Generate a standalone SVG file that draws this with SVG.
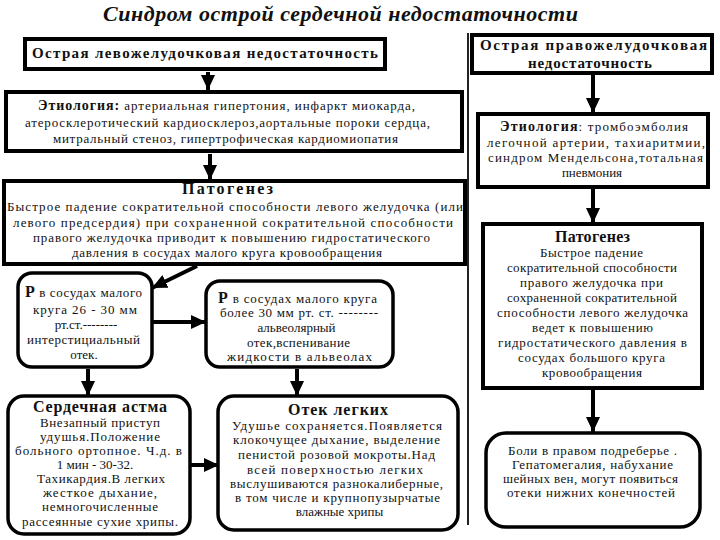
<svg xmlns="http://www.w3.org/2000/svg" width="720" height="540" viewBox="0 0 720 540">
<style>
text{font-family:"Liberation Serif","Times New Roman",serif;fill:#111;text-anchor:middle}
.t{font-size:22px;font-weight:bold;font-style:italic}
.h{font-size:15px;font-weight:bold}
.b{font-size:13px}
.s{font-size:16px;font-weight:bold}
.box{fill:#fff;stroke:#000;stroke-width:4}
.rbox{fill:#fff;stroke:#000;stroke-width:3.5}
.con{stroke:#000;stroke-width:4;fill:none;marker-end:url(#ah)}
.div{stroke:#222;stroke-width:2}
</style>
<defs>
<marker id="ah" markerUnits="userSpaceOnUse" markerWidth="16" markerHeight="14" refX="15" refY="7" orient="auto">
<path d="M0,0 L15,7 L0,14 Z" fill="#000"/>
</marker>
</defs>
<rect width="720" height="540" fill="#fff"/>
<text class="t" x="340.5" y="21" textLength="475">Синдром острой сердечной недостаточности</text>
<line class="div" x1="468" y1="33" x2="468" y2="525"/>

<g id="connectors">
<line class="con" x1="208" y1="72" x2="208" y2="90"/>
<line class="con" x1="210" y1="154" x2="210" y2="180"/>
<line class="con" x1="197" y1="266" x2="152" y2="288"/>
<line class="con" x1="153" y1="322" x2="206" y2="322"/>
<line class="con" x1="88" y1="369" x2="88" y2="396"/>
<line class="con" x1="297" y1="369" x2="297" y2="396"/>
<line class="con" x1="191" y1="465" x2="219" y2="465"/>
<line class="con" x1="593" y1="75" x2="593" y2="113"/>
<line class="con" x1="593" y1="189" x2="593" y2="223"/>
<line class="con" x1="593" y1="390" x2="593" y2="432"/>
</g>

<g id="lv-title">
<rect class="box" x="25" y="39" width="360" height="30"/>
<text class="h" x="205" y="58" textLength="346">Острая левожелудочковая недостаточность</text>
</g>

<g id="lv-etiology">
<rect class="box" x="6" y="92" width="456" height="59"/>
<text class="b" x="226.5" y="109.5" textLength="377"><tspan font-weight="bold" font-size="14">Этиология:</tspan> артериальная гипертония, инфаркт миокарда,</text>
<text class="b" x="227.5" y="126.5" textLength="405">атеросклеротический кардиосклероз,аортальные пороки сердца,</text>
<text class="b" x="225.5" y="142.5" textLength="345">митральный стеноз, гипертрофическая кардиомиопатия</text>
</g>

<g id="lv-pathogenesis">
<rect class="box" x="4" y="181" width="461" height="83"/>
<text class="s" x="227.5" y="194" textLength="91">Патогенез</text>
<text class="b" x="235" y="211" textLength="456">Быстрое падение сократительной способности левого желудочка (или</text>
<text class="b" x="233" y="226.5" textLength="440">левого предсердия) при сохраненной сократительной способности</text>
<text class="b" x="231.5" y="242" textLength="397">правого желудочка приводит к повышению гидростатического</text>
<text class="b" x="227" y="257" textLength="310">давления в сосудах малого круга кровообращения</text>
</g>

<g id="lv-interstitial">
<rect class="rbox" x="18" y="273" width="134" height="94" rx="14"/>
<text class="b" x="83.5" y="297" textLength="117"><tspan font-weight="bold" font-size="16">Р</tspan> в сосудах малого</text>
<text class="b" x="85" y="314" textLength="104">круга 26 - 30 мм</text>
<text class="b" x="86" y="329">рт.ст.--------</text>
<text class="b" x="83.5" y="344" textLength="113">интерстициальный</text>
<text class="b" x="84" y="359">отек.</text>
</g>

<g id="lv-alveolar">
<rect class="rbox" x="206" y="281" width="187" height="86" rx="14"/>
<text class="b" x="297.5" y="303" textLength="159"><tspan font-weight="bold" font-size="16">Р</tspan> в сосудах малого круга</text>
<text class="b" x="299" y="317" textLength="158">более 30 мм рт. ст. --------</text>
<text class="b" x="296.5" y="332">альвеолярный</text>
<text class="b" x="298.5" y="347" textLength="103">отек,вспенивание</text>
<text class="b" x="299.5" y="361" textLength="145">жидкости в альвеолах</text>
</g>

<g id="lv-asthma">
<rect class="rbox" x="8" y="396" width="182" height="138" rx="16"/>
<text class="s" x="100" y="412" textLength="134">Сердечная астма</text>
<text class="b" x="100" y="427" textLength="120">Внезапный приступ</text>
<text class="b" x="100" y="441" textLength="120">удушья.Положение</text>
<text class="b" x="98.5" y="455" textLength="167">больного ортопное. Ч.д. в</text>
<text class="b" x="95" y="469">1 мин - 30-32.</text>
<text class="b" x="101" y="483" textLength="128">Тахикардия.В легких</text>
<text class="b" x="100" y="497" textLength="114">жесткое дыхание,</text>
<text class="b" x="100" y="511" textLength="116">немногочисленные</text>
<text class="b" x="100" y="526" textLength="156">рассеянные сухие хрипы.</text>
</g>

<g id="lv-edema">
<rect class="rbox" x="218" y="396" width="240" height="134" rx="16"/>
<text class="s" x="338" y="415" textLength="100">Отек легких</text>
<text class="b" x="337" y="430" textLength="210">Удушье сохраняется.Появляется</text>
<text class="b" x="336.5" y="444" textLength="207">клокочущее дыхание, выделение</text>
<text class="b" x="336.5" y="459" textLength="197">пенистой розовой мокроты.Над</text>
<text class="b" x="335" y="474" textLength="176">всей поверхностью легких</text>
<text class="b" x="336.5" y="488" textLength="213">выслушиваются разнокалиберные,</text>
<text class="b" x="337.5" y="502" textLength="205">в том числе и крупнопузырчатые</text>
<text class="b" x="339.5" y="516">влажные хрипы</text>
</g>

<g id="rv-title">
<rect class="box" x="472" y="35" width="240" height="38"/>
<text class="h" x="593.5" y="50" textLength="227">Острая правожелудочковая</text>
<text class="h" x="590" y="68" textLength="124">недостаточность</text>
</g>

<g id="rv-etiology">
<rect class="box" x="478" y="114" width="230" height="73"/>
<text class="b" x="594" y="131" textLength="188"><tspan font-weight="bold" font-size="14">Этиология</tspan>: тромбоэмболия</text>
<text class="b" x="596" y="147" textLength="218">легочной артерии, тахиаритмии,</text>
<text class="b" x="595.5" y="162" textLength="215">синдром Мендельсона,тотальная</text>
<text class="b" x="592" y="177">пневмония</text>
</g>

<g id="rv-pathogenesis">
<rect class="box" x="483" y="224" width="219" height="164"/>
<text class="s" x="592.5" y="242" textLength="75">Патогенез</text>
<text class="b" x="591.5" y="257" textLength="103">Быстрое падение</text>
<text class="b" x="592" y="272" textLength="170">сократительной способности</text>
<text class="b" x="591.5" y="287" textLength="143">правого желудочка при</text>
<text class="b" x="592" y="302" textLength="170">сохраненной сократительной</text>
<text class="b" x="592.5" y="317" textLength="191">способности левого желудочка</text>
<text class="b" x="592.5" y="332" textLength="121">ведет к повышению</text>
<text class="b" x="592.5" y="347" textLength="189">гидростатического давления в</text>
<text class="b" x="591.5" y="362" textLength="147">сосудах большого круга</text>
<text class="b" x="592" y="377" textLength="100">кровообращения</text>
</g>

<g id="rv-symptoms">
<rect class="rbox" x="486" y="433" width="214" height="94" rx="20"/>
<text class="b" x="592.5" y="455" textLength="169">Боли в правом подреберье .</text>
<text class="b" x="592.5" y="469" textLength="161">Гепатомегалия, набухание</text>
<text class="b" x="590.5" y="483" textLength="175">шейных вен, могут появиться</text>
<text class="b" x="591" y="497" textLength="168">отеки нижних конечностей</text>
</g>
</svg>
